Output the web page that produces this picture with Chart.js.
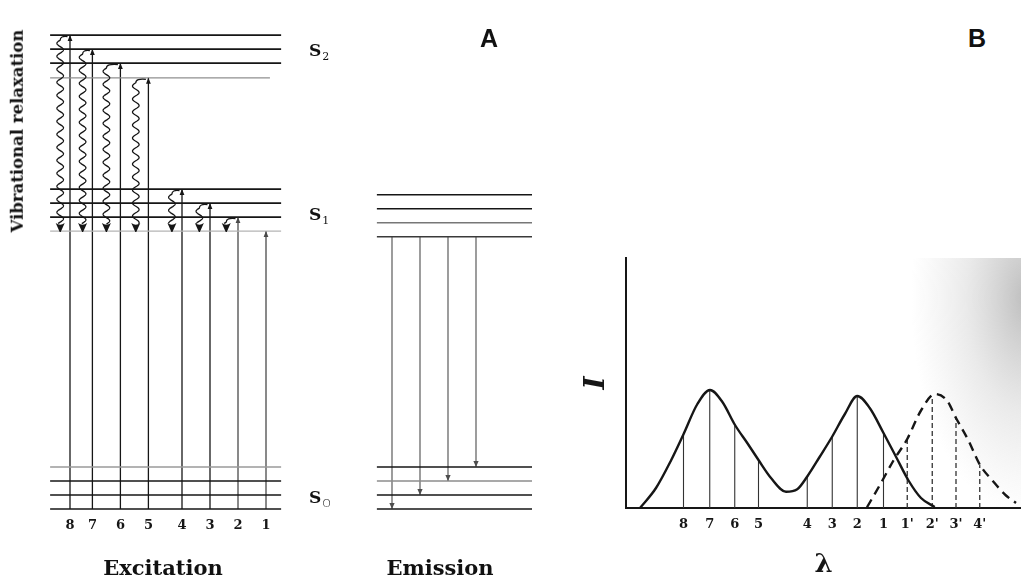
<!DOCTYPE html>
<html><head><meta charset="utf-8">
<script src="https://cdn.jsdelivr.net/npm/chart.js@4.4.0/dist/chart.umd.min.js"></script>
<style>
html,body{margin:0;padding:0;background:#fff;width:1021px;height:588px;overflow:hidden;}
body{position:relative;font-family:"DejaVu Serif",serif;color:#111;}
#cA{position:absolute;left:0;top:0;}
#cB{position:absolute;left:580px;top:250px;}
.t{position:absolute;white-space:nowrap;line-height:1;transform:translate(-50%,-50%);}
.serifb{font-family:"DejaVu Serif",serif;font-weight:bold;}
.sansb{font-family:"Liberation Sans",Arial,sans-serif;font-weight:bold;}
.s{font-family:"DejaVu Serif",serif;font-weight:bold;font-size:17px;position:absolute;line-height:1;white-space:nowrap;}
.s sub{font-weight:normal;font-size:11px;vertical-align:-4px;margin-left:1px;}
</style></head><body>
<canvas id="cA" width="580" height="588"></canvas>
<canvas id="cB" width="441" height="338"></canvas>

<div class="t serifb" style="left:18px;top:131px;font-size:16.5px;transform:translate(-50%,-50%) rotate(-90deg);">Vibrational relaxation</div>
<div class="s" style="left:309px;top:42px;">S<sub>2</sub></div>
<div class="s" style="left:309px;top:206px;">S<sub>1</sub></div>
<div class="s" style="left:309px;top:489px;">S<sub style="font-family:'DejaVu Sans',sans-serif;font-weight:200;">O</sub></div>
<div class="t sansb" style="left:489px;top:38px;font-size:25px;">A</div>
<div class="t sansb" style="left:977px;top:38px;font-size:25px;">B</div>
<div class="t serifb" style="left:163px;top:567px;font-size:21px;">Excitation</div>
<div class="t serifb" style="left:440px;top:567px;font-size:21px;">Emission</div>

<script>
// ---------- Panel A: energy levels (energy units, lowest S0 level = 0) ----------
const s0Levels = [0, 1, 2, 3];
const s1Levels = [19.85, 20.85, 21.85, 22.85];
const s2Levels = [30.8, 31.85, 32.85, 33.85];
const emissionS1Levels = [19.45, 20.45, 21.45, 22.45];

// excitation transitions (from lowest S0 level up)
const excitationLabels = ['8', '7', '6', '5', '4', '3', '2', '1'];
const excitationX = [1, 1.8, 2.8, 3.8, 5, 6, 7, 8];
const excitationTop = [33.85, 32.85, 31.85, 30.8, 22.85, 21.85, 20.85, 19.85];

// vibrational relaxation (wavy) paths
const relaxationX = [0.65, 1.45, 2.3, 3.35, 4.64, 5.62, 6.58];
const relaxationFrom = [33.85, 32.85, 31.85, 30.8, 22.85, 21.85, 20.85];
const relaxationTo = 19.85;

// emission transitions (from lowest S1 level down)
const emissionLabels = ["1'", "2'", "3'", "4'"];
const emissionX = [12.5, 13.5, 14.5, 15.5];
const emissionFrom = 19.45;
const emissionTo = [0, 1, 2, 3];

// ---------- Panel B: spectrum ----------
const spectrumTicks = [2.3, 3.35, 4.35, 5.3, 7.25, 8.25, 9.25, 10.3, 11.25, 12.25, 13.2, 14.15];
const spectrumTickLabels = ['8', '7', '6', '5', '4', '3', '2', '1', "1'", "2'", "3'", "4'"];
const absorptionLambda = [0.56, 1.2, 1.8, 2.3, 2.85, 3.36, 3.85, 4.36, 4.85, 5.3, 5.8, 6.4, 6.85, 7.25, 7.75, 8.25, 8.75, 9.25, 9.75, 10.3, 10.8, 11.3, 11.8, 12.35];
const absorptionIntensity = [0, 8, 19, 29.5, 41.5, 47.2, 42.5, 33.2, 26, 19.2, 12, 6.5, 7.5, 12.6, 20.5, 28.6, 37.5, 44.8, 40, 30, 20.5, 11, 4, 0.4];
const emissionLambda = [9.64, 10.2, 10.7, 11.25, 11.8, 12.36, 12.84, 13.2, 13.7, 14.15, 14.7, 15.2, 15.6];
const emissionIntensity = [0.3, 10, 19, 27.6, 39, 45.6, 43, 36, 27, 17.4, 10.5, 5, 2];
const absorptionDrop = [29.5, 47, 33, 19.2, 12.6, 28.6, 44.8, 30];
const emissionDrop = [27.6, 44.5, 36, 17.4];

// ---------- styles ----------
const INK = '#161616';
const excLevelSpan = [0.29, 8.54];
const emLevelSpan = [11.96, 17.5];

function seg(list, x0, y0, x1, y1, style) {
  list.push(Object.assign({data: [{x: x0, y: y0}, {x: x1, y: y1}], fill: false, pointRadius: 0, tension: 0}, style));
}

const dsA = [];
const s0Colors = [INK, INK, INK, '#9a9a9a'];
const s1Colors = ['#b4b4b4', INK, INK, INK];
const s2Colors = ['#8f8f8f', INK, INK, INK];
const emS1Colors = ['#3a3a3a', '#777', INK, INK];
const emS0Colors = [INK, INK, '#8c8c8c', INK];
s0Levels.forEach((v, i) => seg(dsA, excLevelSpan[0], v, excLevelSpan[1], v, {borderColor: s0Colors[i], borderWidth: 1.6}));
s1Levels.forEach((v, i) => seg(dsA, excLevelSpan[0], v, excLevelSpan[1], v, {borderColor: s1Colors[i], borderWidth: i === 0 ? 1.1 : 1.6}));
s2Levels.forEach((v, i) => seg(dsA, excLevelSpan[0], v, i === 0 ? 8.14 : excLevelSpan[1], v, {borderColor: s2Colors[i], borderWidth: i === 0 ? 1.2 : 1.6}));
emissionS1Levels.forEach((v, i) => seg(dsA, emLevelSpan[0], v, emLevelSpan[1], v, {borderColor: emS1Colors[i], borderWidth: 1.6}));
s0Levels.forEach((v, i) => seg(dsA, emLevelSpan[0], v, emLevelSpan[1], v, {borderColor: emS0Colors[i], borderWidth: 1.6}));
excitationX.forEach((x, i) => seg(dsA, x, s0Levels[0], x, excitationTop[i], {borderColor: i >= 6 ? '#4a4a4a' : INK, borderWidth: 1.3, arrowHead: {len: 6, half: 2.4}}));
emissionX.forEach((x, i) => seg(dsA, x, emissionFrom, x, emissionTo[i], {borderColor: '#4d4d4d', borderWidth: 1.1, arrowHead: {len: 6, half: 2.6}}));

const arrowPlugin = {
  id: 'arrowHeads',
  afterDatasetsDraw(chart) {
    const ctx = chart.ctx;
    chart.data.datasets.forEach((d, i) => {
      if (!d.arrowHead) return;
      const pts = chart.getDatasetMeta(i).data;
      const a = pts[pts.length - 2], b = pts[pts.length - 1];
      const ang = Math.atan2(b.y - a.y, b.x - a.x);
      const L = d.arrowHead.len, W = d.arrowHead.half;
      const bx = b.x - L * Math.cos(ang), by = b.y - L * Math.sin(ang);
      ctx.save();
      ctx.fillStyle = d.borderColor;
      ctx.beginPath();
      ctx.moveTo(b.x, b.y);
      ctx.lineTo(bx + W * Math.sin(ang), by - W * Math.cos(ang));
      ctx.lineTo(bx - W * Math.sin(ang), by + W * Math.cos(ang));
      ctx.closePath();
      ctx.fill();
      ctx.restore();
    });
  }
};

const wavyPlugin = {
  id: 'wavy',
  afterDatasetsDraw(chart) {
    const {ctx, scales: {x, y}} = chart;
    ctx.save();
    ctx.strokeStyle = INK; ctx.fillStyle = INK; ctx.lineWidth = 1.3; ctx.lineJoin = 'round';
    relaxationX.forEach((rx, i) => {
      const xc = x.getPixelForValue(rx);
      const colX = x.getPixelForValue(excitationX[i]);
      const y0 = y.getPixelForValue(relaxationFrom[i]);
      const y1 = y.getPixelForValue(relaxationTo);
      const headH = 7;
      const yEnd = y1 - headH;
      ctx.beginPath();
      ctx.moveTo(colX - 2.5, y0 + 1.5);
      ctx.quadraticCurveTo(xc, y0 + 0.5, xc, y0 + 5);
      for (let yy = y0 + 5; yy <= yEnd; yy += 0.5) {
        ctx.lineTo(xc - 3.3 * Math.sin((yy - y0 - 5) / 13 * 2 * Math.PI), yy);
      }
      ctx.stroke();
      ctx.beginPath();
      ctx.moveTo(xc - 4.5, yEnd - 1);
      ctx.quadraticCurveTo(xc, yEnd + 2.5, xc + 4.5, yEnd - 1);
      ctx.lineTo(xc + 0.5, y1 + 1);
      ctx.lineTo(xc - 0.5, y1 + 1);
      ctx.closePath();
      ctx.fill();
    });
    ctx.restore();
  }
};

const tickFont = {family: 'DejaVu Serif', weight: 'bold', size: 13};

new Chart(document.getElementById('cA'), {
  type: 'line',
  data: {datasets: dsA},
  options: {
    responsive: false, animation: false, devicePixelRatio: 1,
    layout: {padding: {left: 42, right: 6, top: 26, bottom: 0}},
    plugins: {legend: {display: false}, tooltip: {enabled: false}},
    elements: {point: {radius: 0}},
    scales: {
      x: {
        type: 'linear', min: 0, max: 19, position: 'bottom', weight: 1,
        grid: {display: false, drawTicks: false}, border: {display: false},
        ticks: {autoSkip: false, maxRotation: 0, padding: 2, font: tickFont, color: INK,
                callback: (v, i) => excitationLabels[i]},
        afterBuildTicks: s => { s.ticks = excitationX.map(v => ({value: v})); },
        afterFit: s => { s.height = 72; }
      },
      xEm: {
        type: 'linear', min: 0, max: 19, position: 'bottom', weight: 0,
        grid: {display: false, drawTicks: false}, border: {display: false},
        ticks: {autoSkip: false, maxRotation: 0, padding: -7, font: tickFont, color: INK,
                callback: (v, i) => emissionLabels[i]},
        afterBuildTicks: s => { s.ticks = emissionX.map(v => ({value: v})); },
        afterFit: s => { s.height = 0; }
      },
      y: {type: 'linear', min: -0.5, max: 34.5, display: false}
    }
  },
  plugins: [arrowPlugin, wavyPlugin]
});

// ---------- Panel B chart ----------
const dsB = [];
dsB.push({data: absorptionLambda.map((l, i) => ({x: l, y: absorptionIntensity[i]})), borderColor: INK, borderWidth: 2.4,
          cubicInterpolationMode: 'monotone', fill: false, pointRadius: 0});
dsB.push({data: emissionLambda.map((l, i) => ({x: l, y: emissionIntensity[i]})), borderColor: INK, borderWidth: 2.4,
          borderDash: [9, 6], cubicInterpolationMode: 'monotone', fill: false, pointRadius: 0});
const absDropData = [], emDropData = [];
absorptionDrop.forEach((h, i) => { absDropData.push({x: spectrumTicks[i], y: 0}, {x: spectrumTicks[i], y: h}, {x: spectrumTicks[i], y: null}); });
emissionDrop.forEach((h, i) => { const xv = spectrumTicks[absorptionDrop.length + i]; emDropData.push({x: xv, y: 0}, {x: xv, y: h}, {x: xv, y: null}); });
dsB.push({data: absDropData, borderColor: '#333', borderWidth: 1.1, fill: false, pointRadius: 0, spanGaps: false, tension: 0});
dsB.push({data: emDropData, borderColor: '#333', borderWidth: 1.3, borderDash: [5, 3], fill: false, pointRadius: 0, spanGaps: false, tension: 0});

const shadePlugin = {
  id: 'shade',
  beforeDatasetsDraw(chart) {
    const {ctx, chartArea: a} = chart;
    ctx.save();
    ctx.beginPath(); ctx.rect(a.left, a.top, a.right - a.left, a.bottom - a.top); ctx.clip();
    ctx.translate(a.right + 5, a.top + 40);
    ctx.scale(1, 1.9);
    const g = ctx.createRadialGradient(0, 0, 5, 0, 0, 115);
    g.addColorStop(0, 'rgba(120,120,120,0.45)');
    g.addColorStop(0.5, 'rgba(150,150,150,0.2)');
    g.addColorStop(1, 'rgba(170,170,170,0)');
    ctx.fillStyle = g;
    ctx.fillRect(-200, -120, 220, 260);
    ctx.restore();
  }
};

new Chart(document.getElementById('cB'), {
  type: 'line',
  data: {datasets: dsB},
  options: {
    responsive: false, animation: false, devicePixelRatio: 1,
    layout: {padding: {left: 0, right: 0, top: 8, bottom: 0}},
    plugins: {legend: {display: false}, tooltip: {enabled: false}},
    elements: {point: {radius: 0}},
    scales: {
      x: {
        type: 'linear', min: 0, max: 15.8, position: 'bottom',
        grid: {display: false, drawTicks: false}, border: {display: true, color: INK, width: 2},
        ticks: {autoSkip: false, maxRotation: 0, padding: 9, font: tickFont, color: INK,
                callback: (v, i) => spectrumTickLabels[i]},
        afterBuildTicks: s => { s.ticks = spectrumTicks.map(v => ({value: v})); },
        afterFit: s => { s.height = 80; },
        title: {display: true, text: 'λ', color: INK, font: {family: 'DejaVu Serif', weight: 'bold', size: 26, lineHeight: 1.3}, padding: {top: 0, bottom: 6}}
      },
      y: {
        type: 'linear', min: 0, max: 100,
        grid: {display: false, drawTicks: false}, border: {display: true, color: INK, width: 2},
        ticks: {display: false},
        afterFit: s => { s.width = 46; },
        title: {display: true, text: 'I', color: INK, font: {family: 'DejaVu Serif', style: 'italic', weight: 'bold', size: 28, lineHeight: 1}, padding: {top: 3, bottom: 0}}
      }
    }
  },
  plugins: [shadePlugin]
});
</script>
</body></html>
